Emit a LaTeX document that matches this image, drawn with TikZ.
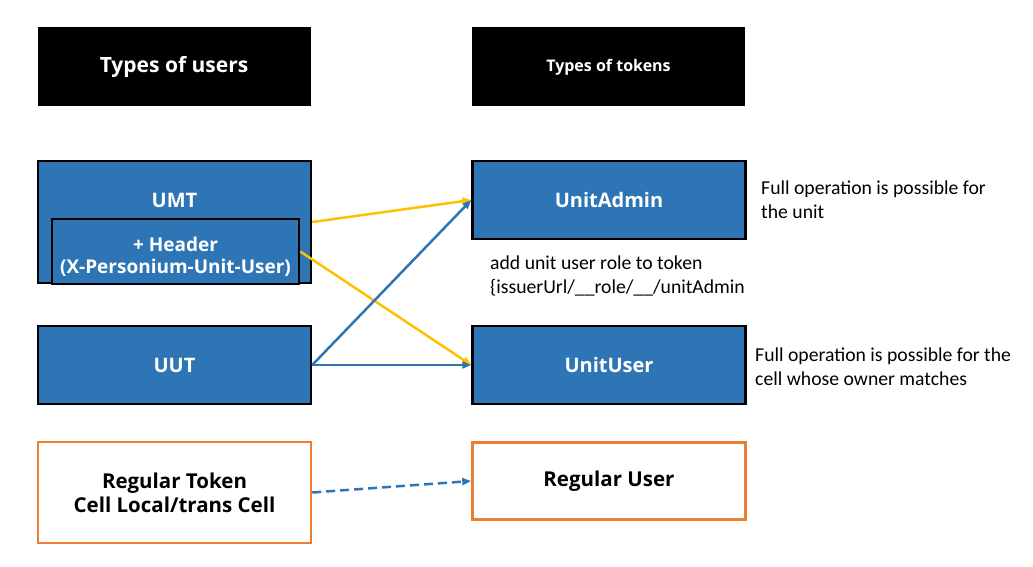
\documentclass[tikz,border=0pt]{standalone}
\usepackage{fontspec}
\setmainfont{Carlito}
\newfontfamily\boxfont{Open Sans}
\usetikzlibrary{arrows.meta}

\definecolor{boxblue}{HTML}{2E75B6}
\definecolor{lineyellow}{HTML}{FFC000}
\definecolor{boxorange}{HTML}{ED7D31}

\tikzset{
  titlebox/.style={fill=black, text=white, minimum width=273pt, minimum height=79pt, font=\boxfont\bfseries},
  bluebox/.style={draw=black, line width=2.5pt, fill=boxblue, text=white, minimum width=273pt, font=\boxfont\bfseries\fontsize{20}{22}\selectfont},
  orangebox/.style={draw=boxorange, line width=2.5pt, fill=white, align=center, minimum width=273pt, font=\boxfont\bfseries\fontsize{20.5}{24}\selectfont},
  note/.style={align=left, anchor=north west, inner sep=0pt, font=\fontsize{19.7}{24}\selectfont},
  arr/.style={-{Triangle[length=9pt,width=7pt]}, line width=2.5pt}
}

\begin{document}
\begin{tikzpicture}[x=1pt, y=-1pt]
\useasboundingbox (0,0) rectangle (1033,567);

\node [titlebox, font=\boxfont\bfseries\fontsize{21}{24}\selectfont] (users_title) at (174,67) {Types of users};
\node [titlebox, font=\boxfont\bfseries\fontsize{16}{18}\selectfont] (tokens_title) at (608.5,67) {Types of tokens};

\node [bluebox, minimum height=122pt] (umt) at (174.5,222) {};
\node [text=white, font=\boxfont\bfseries\fontsize{20}{22}\selectfont] (umt_text) at (174.5,200) {UMT};
\node [bluebox, minimum width=247pt, minimum height=65pt] (header) at (175.5,251.5) {};
\node [text=white, align=center, font=\boxfont\bfseries\fontsize{19}{22}\selectfont] (header_text) at (175.5,257) {+ Header\\(X-Personium-Unit-User)};

\node [bluebox, minimum height=78pt] (uut) at (174.5,365) {UUT};

\node [bluebox, minimum height=78pt] (unit_admin) at (609,200) {UnitAdmin};
\node [bluebox, minimum height=78pt] (unit_user) at (609,365) {UnitUser};

\node [orangebox, minimum height=101pt] (reg_token) at (174.5,492.5) {Regular Token\\Cell Local/trans Cell};
\node [orangebox, minimum height=77pt] (reg_user) at (609,481) {Regular User};

\node [note] (admin_note) at (761,181) {Full operation is possible for\\the unit};
\node [note] (role_note) at (490,256) {add unit user role to token\\\{issuerUrl/\_\_role/\_\_/unitAdmin};
\node [note] (user_note) at (755,348) {Full operation is possible for the\\cell whose owner matches};

\draw[arr, lineyellow] (umt.east)--(unit_admin.west);
\draw[arr, lineyellow] (header.east)--(unit_user.west);
\draw[arr, boxblue] (uut.east)--(unit_admin.west);
\draw[arr, boxblue] (uut.east)--(unit_user.west);
\draw[arr, boxblue, dashed, dash pattern=on 9pt off 5pt] (reg_token.east)--(reg_user.west);

\end{tikzpicture}
\end{document}
